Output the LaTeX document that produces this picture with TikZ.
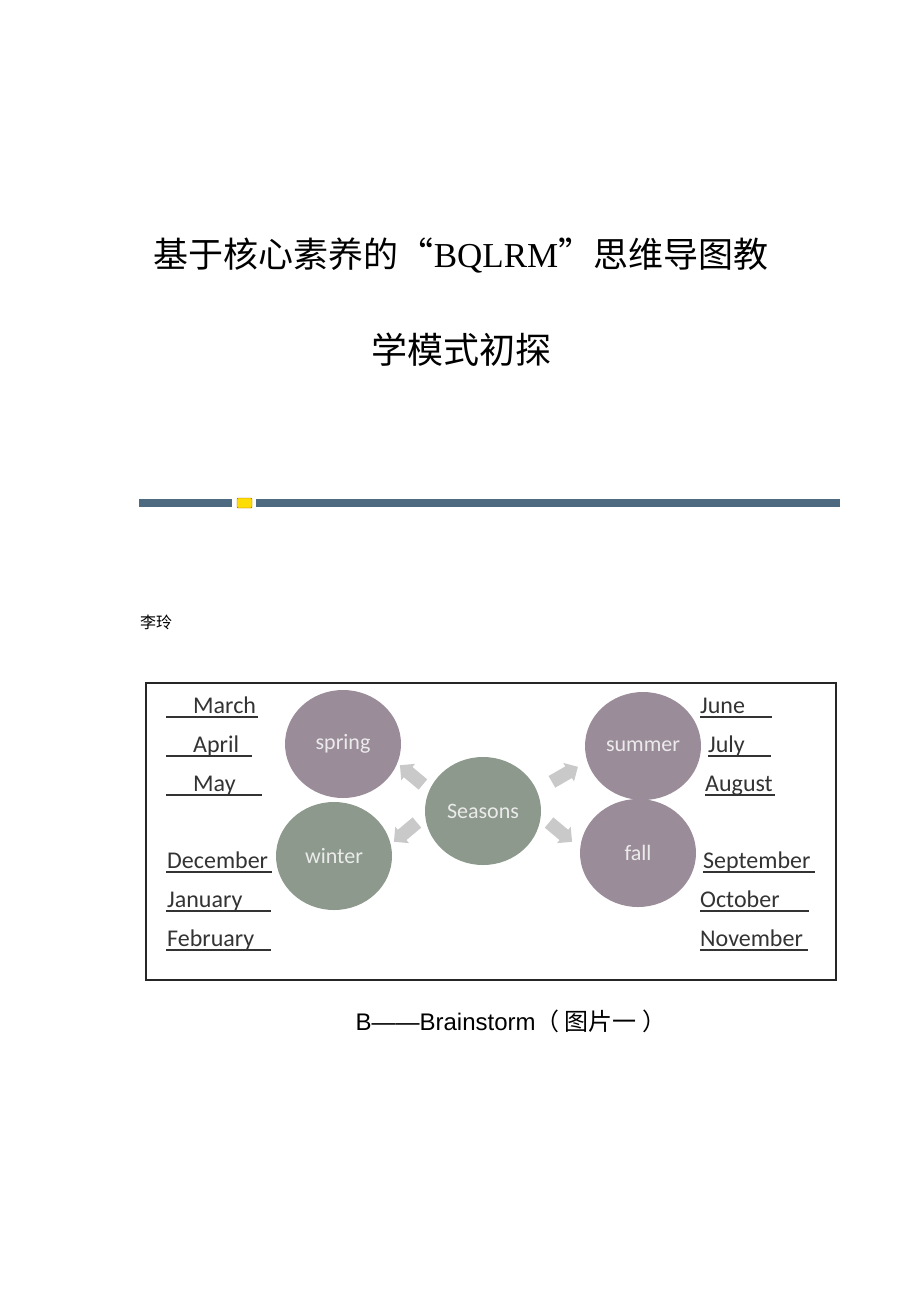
\documentclass[tikz,border=0pt]{standalone}
\usepackage{fontspec}
\setmainfont{Carlito}
\newfontfamily\cjk{Noto Sans CJK SC}
\newfontfamily\arial{Liberation Sans}
\newfontfamily\tms{Liberation Serif}
\usetikzlibrary{shapes.geometric,shapes.arrows}
\definecolor{barblue}{HTML}{4D6A80}
\definecolor{mauve}{HTML}{9B8C9A}
\definecolor{sage}{HTML}{8C998C}
\definecolor{arrowgray}{HTML}{C9C9C9}
\definecolor{ink}{HTML}{333333}
\begin{document}
\begin{tikzpicture}[x=1pt,y=-1pt,
    season/.style={ellipse,minimum width=116pt,minimum height=108pt,inner sep=0pt,
      text=white!92!black,font=\fontsize{22}{22}\selectfont},
    sarrow/.style={single arrow,fill=arrowgray,draw=none,minimum height=30pt,
      inner sep=6.5pt,single arrow head extend=4pt},
    month/.style={anchor=base west,inner sep=0pt,text=ink,font=\fontsize{24}{24}\selectfont},
    uline/.style={ink,line width=1.2pt}]
  \useasboundingbox (0,0) rectangle (920,1302);
  % title and author
  \node (title1) at (461,255) {\cjk\fontsize{35}{35}\selectfont 基于核心素养的“{\tms BQLRM}”思维导图教};
  \node (title2) at (461,350) {\cjk\fontsize{36}{36}\selectfont 学模式初探};
  \fill[barblue] (139,499) rectangle (232,507);
  \fill[barblue] (256,499) rectangle (840,507);
  \draw[fill=yellow!80!orange,draw=orange!70!black,rounded corners=1pt] (237,498) rectangle (252,508);
  \node[anchor=west,inner sep=0pt] (author) at (140,622) {\cjk\fontsize{16}{16}\selectfont 李玲};
  % frame
  \draw[line width=2.2pt,black!85] (146,683) rectangle (836,980);
  % circles
  \node[season,fill=mauve] (spring) at (343,744) {spring};
  \node[season,fill=mauve] (summer) at (643,746) {summer};
  \node[season,fill=sage] (seasons) at (483,811) {Seasons};
  \node[season,fill=sage] (winter) at (334,856) {winter};
  \node[season,fill=mauve] (fall) at (638,853) {fall};
  % arrows
  \node[sarrow,rotate=140] (a1) at (414,777) {};
  \node[sarrow,rotate=220] (a2) at (408,830) {};
  \node[sarrow,rotate=30] (a3) at (562,776) {};
  \node[sarrow,rotate=-40] (a4) at (558,830) {};
  % months
  \node[month] (mar) at (193,713) {March};
  \node[month] (apr) at (193,752) {April};
  \node[month] (may) at (193,791) {May};
  \node[month] (dec) at (167,868) {December};
  \node[month] (jan) at (167,907) {January};
  \node[month] (feb) at (167,946) {February};
  \node[month] (jun) at (700,713) {June};
  \node[month] (jul) at (708,752) {July};
  \node[month] (aug) at (705,791) {August};
  \node[month] (sep) at (703,868) {September};
  \node[month] (oct) at (700,907) {October};
  \node[month] (nov) at (700,946) {November};
  \begin{scope}[uline]
    \draw (166,717) -- (258,717);
    \draw (166,756) -- (252,756);
    \draw (166,795) -- (262,795);
    \draw (166,872) -- (272,872);
    \draw (166,911) -- (271,911);
    \draw (166,950) -- (271,950);
    \draw (700,717) -- (772,717);
    \draw (708,756) -- (771,756);
    \draw (705,795) -- (775,795);
    \draw (703,872) -- (815,872);
    \draw (700,911) -- (809,911);
    \draw (700,950) -- (808,950);
  \end{scope}
  % caption
  \node (caption) at (511,1021) {\arial\fontsize{24}{24}\selectfont B——Brainstorm{\cjk（ 图片一 ）}};
\end{tikzpicture}
\end{document}
